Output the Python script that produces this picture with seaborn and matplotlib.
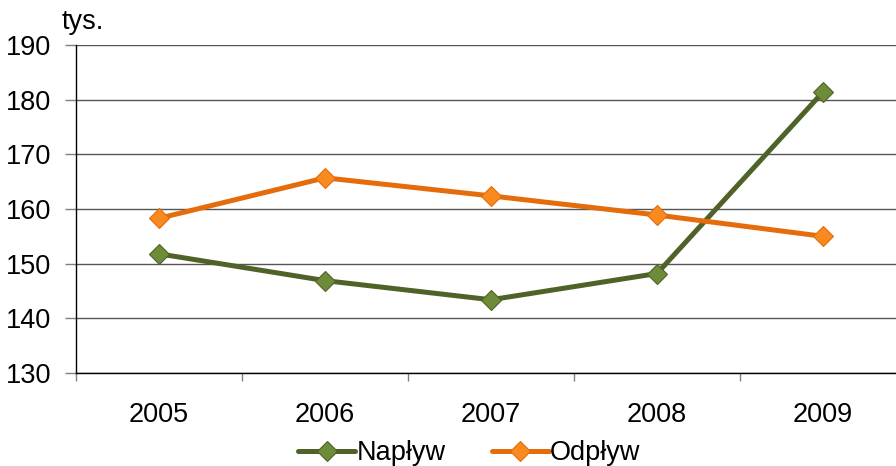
import matplotlib
matplotlib.use("Agg")
import matplotlib.pyplot as plt
import seaborn as sns
import pandas as pd
from matplotlib.ticker import FixedLocator

years = ["2005", "2006", "2007", "2008", "2009"]
naplyw = [151.8, 146.9, 143.4, 148.2, 181.4]
odplyw = [158.3, 165.7, 162.4, 158.9, 155.0]
series_names = ["Napływ", "Odpływ"]
y_ticks = [130, 140, 150, 160, 170, 180, 190]

sns.set_theme(style="white")
plt.rcParams['font.family'] = ['Liberation Sans', 'DejaVu Sans']
plt.rcParams['text.color'] = 'black'

FS = 19.5

df = pd.DataFrame({
    "idx": list(range(len(years))) * 2,
    "value": naplyw + odplyw,
    "series": [series_names[0]] * len(years) + [series_names[1]] * len(years),
})

line_colors = {"Napływ": "#4F6228", "Odpływ": "#E46C0A"}
face_colors = {"Napływ": "#6E8B3A", "Odpływ": "#F88A20"}
MS = 10
LW = 3.6

fig = plt.figure(figsize=(8.96, 4.66), dpi=100)
ax = fig.add_axes([76 / 896, 93 / 466, 830 / 896, 328 / 466])

sns.lineplot(data=df, x="idx", y="value", hue="series", palette=line_colors,
             marker="D", markersize=MS, linewidth=LW, ax=ax, legend=False,
             markeredgewidth=0.8)
for ln, name in zip(ax.get_lines(), series_names):
    ln.set_markerfacecolor(face_colors[name])
    ln.set_markeredgecolor(line_colors[name])

ax.set_xlim(-0.5, len(years) - 0.5)
ax.set_ylim(130, 190)
ax.set_yticks(y_ticks)
ax.set_xticks(range(len(years)))
ax.set_xticklabels(years)
ax.xaxis.set_minor_locator(FixedLocator([i - 0.5 for i in range(len(years) + 1)]))
ax.tick_params(axis="x", which="major", length=0, pad=21, labelsize=FS, labelcolor="black")
ax.tick_params(axis="x", which="minor", length=6, width=1, color="#808080", direction="out", bottom=True)
ax.tick_params(axis="y", length=8, width=1, color="#808080", labelsize=FS, pad=10, left=True,
               labelcolor="black")
ax.set_xlabel("")
ax.set_ylabel("")

ax.grid(axis="y", color="#555555", linewidth=1)
ax.grid(axis="x", visible=False)
for s in ["top", "right"]:
    ax.spines[s].set_visible(False)
ax.spines["left"].set_color("black")
ax.spines["bottom"].set_color("black")
ax.spines["left"].set_linewidth(1)
ax.spines["bottom"].set_linewidth(1)

fig.text(62 / 896, 1 - 22 / 466, "tys.", fontsize=FS, va="center", ha="left", color="black")

handles = []
for name in series_names:
    h, = ax.plot([], [], color=line_colors[name], marker="D", markersize=MS,
                 linewidth=LW, markerfacecolor=face_colors[name],
                 markeredgecolor=line_colors[name], markeredgewidth=0.8)
    handles.append(h)
fig.legend(handles, series_names, loc="center", bbox_to_anchor=(0.524, 1 - 453 / 466),
           ncol=2, frameon=False, fontsize=FS, handlelength=2.1,
           handletextpad=0.05, columnspacing=1.7, borderaxespad=0, borderpad=0)

fig.savefig("out.png", dpi=100)
